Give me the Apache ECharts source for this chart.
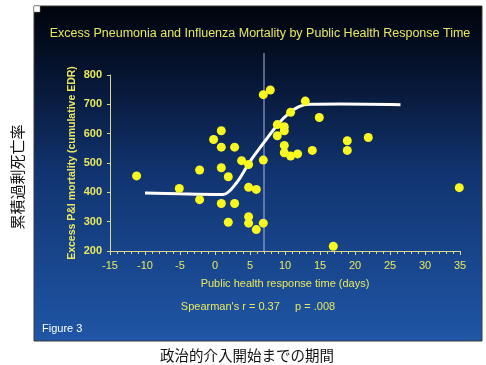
<!DOCTYPE html>
<html><head><meta charset="utf-8">
<script src="https://cdn.jsdelivr.net/npm/echarts@6/dist/echarts.min.js"></script>
<style>html,body{margin:0;padding:0;background:#fff}#c{width:486px;height:365px}</style>
</head><body><div id="c"></div>
<script>
// Scatter points: response time (days) and excess P&I mortality
var pointX = [-11.2,-5.1,-2.2,-2.2,0.9,-0.2,0.9,0.9,0.9,1.9,1.9,2.8,2.8,3.8,4.8,4.8,4.8,4.8,5.9,5.9,6.9,6.9,7.9,6.9,6.9,
              8.9,9.9,9.9,8.9,10.8,12.9,14.9,9.9,9.9,10.8,11.8,13.9,18.9,18.9,21.9,16.9,34.9];
var pointY = [456,413,476,375,610,580,554,484,362,453,298,554,362,508,495,417,317,295,410,273,804,733,749,510,295,
              631,624,610,593,673,711,655,560,535,524,531,543,576,543,587,216,416];
// Fitted curve
var curveX = [-10,-5,0,1.2,3,5,7,9,10.5,12,13.5,18,26.5];
var curveY = [398,395,393,393,430,505,570,632,668,692,700,701,699];
// Vertical reference line (response time = 7 days)
var refX = 7;
var refY = [200,875];
var xTicks = [-15,35,5];
var yTicks = [200,800,100];

var FONT = '"Liberation Sans", Arial, sans-serif';
var YEL = '#e8e860';
var chart = echarts.init(document.getElementById('c'), null, {renderer:'canvas'});
var pts = pointX.map(function(x,i){return [x,pointY[i]];});
var crv = curveX.map(function(x,i){return [x,curveY[i]];});
chart.setOption({
  animation:false,
  backgroundColor:'#ffffff',
  graphic:[
    {type:'rect',z:-10,shape:{x:34,y:6,width:448,height:335},
     style:{fill:new echarts.graphic.LinearGradient(0,0,0,1,[
       {offset:0,color:'#00030a'},{offset:0.2,color:'#061430'},
       {offset:0.5,color:'#113470'},{offset:1,color:'#1f56a6'}]),
       stroke:'#3a3a3a',lineWidth:1}},
    {type:'rect',z:-5,shape:{x:34,y:6,width:6,height:6},style:{fill:'#ffffff',stroke:'#888',lineWidth:0.5}},
    {type:'text',x:260,y:34,style:{text:'Excess Pneumonia and Influenza Mortality by Public Health Response Time',
      fill:YEL,font:'12.5px '+FONT,textAlign:'center',textVerticalAlign:'middle'}},
    {type:'text',x:258,y:307,style:{text:"Spearman's r = 0.37     p = .008",
      fill:YEL,font:'11px '+FONT,textAlign:'center',textVerticalAlign:'middle'}},
    {type:'text',x:42,y:329,style:{text:'Figure 3',fill:'#ffffff',font:'11px '+FONT,textVerticalAlign:'middle'}},
    {type:'text',x:247,y:355,style:{text:'政治的介入開始までの期間',fill:'#111',
      font:'14.5px "Noto Sans CJK JP"',textAlign:'center',textVerticalAlign:'middle'}},
    {type:'text',x:17,y:177,rotation:Math.PI/2,style:{text:'累積過剰死亡率',fill:'#111',
      font:'15px "Noto Sans CJK JP"',textAlign:'center',textVerticalAlign:'middle'}}
  ],
  grid:{left:110,right:26,top:75,bottom:114},
  xAxis:{type:'value',min:xTicks[0],max:xTicks[1],interval:xTicks[2],
    name:'Public health response time (days)',nameLocation:'middle',nameGap:27,
    nameTextStyle:{color:YEL,fontSize:11,fontFamily:FONT},
    axisLine:{show:true,onZero:false,lineStyle:{color:'#d8d890',width:1}},
    axisTick:{show:true,length:4,lineStyle:{color:'#d8d890'}},
    minorTick:{show:true,splitNumber:5,length:3,lineStyle:{color:'#d8d890'}},
    splitLine:{show:false},minorSplitLine:{show:false},
    axisLabel:{color:YEL,fontSize:11,fontFamily:FONT,margin:9}},
  yAxis:{type:'value',min:yTicks[0],max:yTicks[1],interval:yTicks[2],
    name:'Excess P&I mortality (cumulative EDR)',nameLocation:'middle',nameGap:32,nameRotate:90,
    nameMoveOverlap:false,
    nameTextStyle:{color:YEL,fontSize:10.5,fontWeight:'bold',fontFamily:FONT},
    axisLine:{show:true,onZero:false,lineStyle:{color:'#d8d890',width:1}},
    axisTick:{show:true,length:3,lineStyle:{color:'#d8d890'}},
    splitLine:{show:false},
    axisLabel:{color:YEL,fontSize:11,fontWeight:'bold',fontFamily:FONT,margin:8}},
  series:[
    {type:'line',data:[[refX,refY[0]],[refX,refY[1]]],clip:false,showSymbol:false,symbol:'none',
     lineStyle:{color:'#a9b9d6',width:1},z:1},
    {type:'line',data:crv,smooth:0.35,showSymbol:false,symbol:'none',
     lineStyle:{color:'#ffffff',width:3},z:2},
    {type:'scatter',data:pts,symbolSize:9,itemStyle:{color:'#f8f820',opacity:1},z:3}
  ]
});
</script></body></html>
